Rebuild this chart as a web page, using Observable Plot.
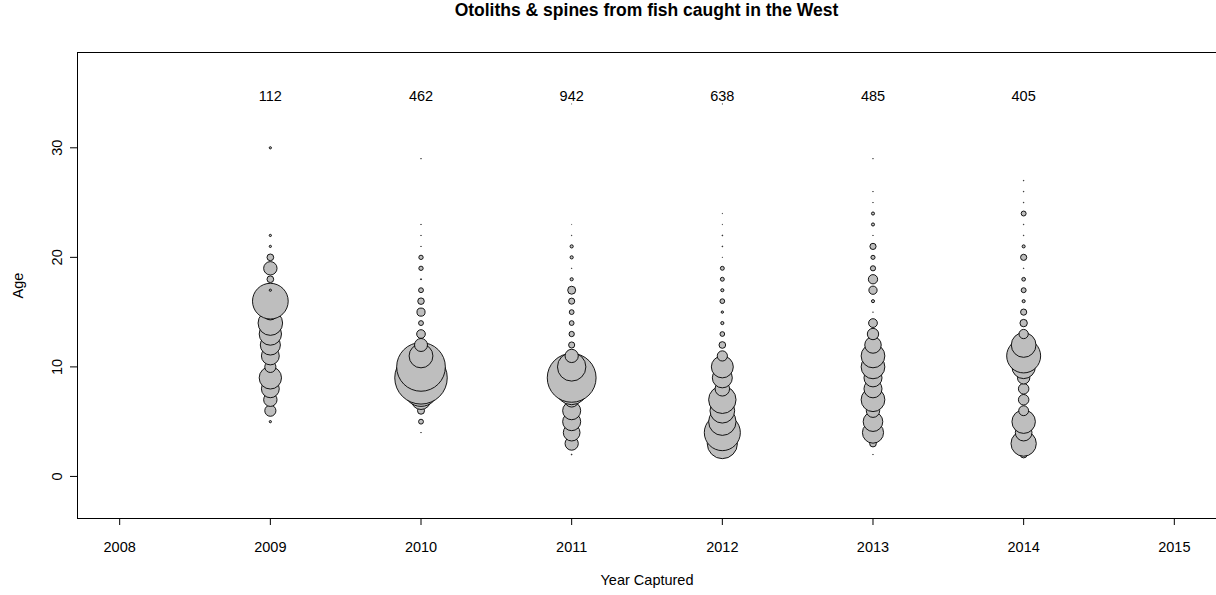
<!DOCTYPE html>
<html><head><meta charset="utf-8">
<script src="https://cdn.jsdelivr.net/npm/d3@7"></script>
<script src="https://cdn.jsdelivr.net/npm/@observablehq/plot@0.6"></script>
<style>
html,body{margin:0;padding:0;background:#fff;overflow:hidden}
#title{height:36px;line-height:36px;padding-left:77px;width:1139px;text-align:center;font:bold 17.5px "Liberation Sans",Arial,sans-serif;color:#000}
</style></head><body>
<div id="title">Otoliths &amp; spines from fish caught in the West</div>
<div id="chart"></div>
<script>
// Data
const years = [2009, 2010, 2011, 2012, 2013, 2014];
const totals = [112, 462, 942, 638, 485, 405];
const xTicks = [2008, 2009, 2010, 2011, 2012, 2013, 2014, 2015];
const yTicks = [0, 10, 20, 30];
const labelAge = 35;

const ages2009 = [5,6,7,8,9,10,11,12,13,14,15,16,17,18,19,20,21,22,30];
const counts2009 = [1,5,6,8,10,5,8,9,10,11,7,16,1,3,6,3,1,1,1];

const ages2010 = [4,5,6,7,8,9,10,11,12,13,14,15,16,17,18,19,20,21,22,23,29];
const counts2010 = [1,9,13,36,65,97,90,44,24,16,9,15,12,9,2,8,8,1,1,1,1];

const ages2011 = [2,3,4,5,6,7,8,9,10,11,12,13,14,15,16,17,18,19,20,21,22,23,34];
const counts2011 = [3,50,63,68,68,55,120,184,107,50,23,20,18,18,23,30,12,2,12,12,2,1,1];

const ages2012 = [2,3,4,5,6,7,8,9,10,11,12,13,14,15,16,17,18,19,20,21,22,23,24,34];
const counts2012 = [5,77,92,70,63,70,37,51,56,26,17,12,8,6,12,8,10,10,1,2,2,1,1,1];

const ages2013 = [2,3,4,5,6,7,8,9,10,11,12,13,14,15,16,17,18,19,20,21,22,23,24,25,26,29];
const counts2013 = [1,13,41,38,26,46,35,35,46,46,32,22,17,1,6,16,18,10,8,12,1,6,6,1,1,1];

const ages2014 = [2,3,4,5,6,7,8,9,10,11,12,13,14,15,16,17,18,19,20,21,22,23,24,25,26,27];
const counts2014 = [11,41,27,38,16,17,17,20,38,55,40,15,12,10,5,8,6,1,10,5,1,1,8,1,1,1];

const agesByYear = [ages2009, ages2010, ages2011, ages2012, ages2013, ages2014];
const countsByYear = [counts2009, counts2010, counts2011, counts2012, counts2013, counts2014];

const rows = [];
years.forEach((yr, i) => {
  agesByYear[i].forEach((a, j) => {
    rows.push({year: yr, age: a, n: countsByYear[i][j], share: countsByYear[i][j] / totals[i]});
  });
});

const font = '"Liberation Sans", Arial, sans-serif';
const fs = 14.5;
const chart = Plot.plot({
  width: 1216, height: 559,
  marginLeft: 77, marginRight: 0, marginTop: 16, marginBottom: 77,
  style: {fontFamily: font, fontSize: fs + "px", background: "white", color: "black", overflow: "visible"},
  x: {domain: [2007.72, 2015.28], axis: null},
  y: {domain: [-3.84, 38.7], axis: null},
  r: {type: "linear", domain: [0, 1], range: [0, 125]},
  marks: [
    Plot.frame({stroke: "black"}),
    Plot.axisX(xTicks, {anchor: "bottom", tickSize: 7, tickFormat: () => "", label: null, stroke: "black"}),
    Plot.axisY(yTicks, {anchor: "left", tickSize: 7, tickFormat: () => "", label: null, stroke: "black"}),
    Plot.text(xTicks, {x: d => d, frameAnchor: "bottom", dy: 29, text: d => String(d), textAnchor: "middle", lineAnchor: "middle", fontSize: fs, fill: "black"}),
    Plot.text(yTicks, {y: d => d, frameAnchor: "left", dx: -20, rotate: -90, text: d => String(d), textAnchor: "middle", lineAnchor: "middle", fontSize: fs, fill: "black"}),
    Plot.text(["Year Captured"], {frameAnchor: "bottom", dy: 62, textAnchor: "middle", lineAnchor: "middle", fontSize: fs, fill: "black"}),
    Plot.text(["Age"], {frameAnchor: "left", dx: -59, rotate: -90, textAnchor: "middle", lineAnchor: "middle", fontSize: fs, fill: "black"}),
    Plot.dot(rows, {x: "year", y: "age", r: "share", fill: "#bebebe", stroke: "black", strokeWidth: 0.9, sort: null}),
    Plot.text(years, {x: d => d, y: () => labelAge, text: (d, i) => String(totals[i]), dy: 3, textAnchor: "middle", lineAnchor: "middle", fontSize: fs, fill: "black"})
  ]
});
document.getElementById("chart").appendChild(chart);
</script>
</body></html>
